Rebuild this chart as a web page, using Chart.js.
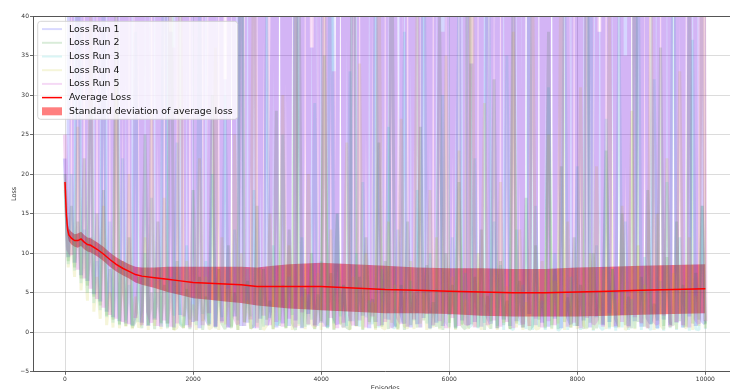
<!DOCTYPE html>
<html><head><meta charset="utf-8">
<script src="https://cdn.jsdelivr.net/npm/chart.js@4.4.1/dist/chart.umd.min.js"></script>
<style>html,body{margin:0;padding:0;background:#fff;overflow:hidden;width:730px;height:389px}canvas{display:block}</style>
</head><body>
<canvas id="c" width="745" height="395"></canvas>
<script>
// ---------- data ----------
const seriesLabels = ['Loss Run 1','Loss Run 2','Loss Run 3','Loss Run 4','Loss Run 5','Average Loss','Standard deviation of average loss'];
const xTicks = [0, 2000, 4000, 6000, 8000, 10000];
const yTicks = [-5, 0, 5, 10, 15, 20, 25, 30, 35, 40];
const runSampleStep = 50; // episodes between sampled loss values

const run1 = [
22, 9.5, 140, 8.8, 95, 7.2, 210, 6.5, 60, 4.8,
180, 3.9, 75, 2.6, 120, 1.9, 260, 1.4, 85, 1.1,
150, 0.9, 2.4, 110, 1.2, 45, 0.8, 300, 1.6, 70,
0.7, 190, 1.1, 38, 0.6, 130, 2.2, 88, 0.9, 240,
1.3, 55, 0.5, 165, 1.8, 1.0, 95, 0.7, 220, 1.4,
32, 0.6, 140, 2.0, 75, 0.8, 280, 1.2, 60, 0.5,
175, 1.7, 105, 0.9, 2.6, 48, 0.6, 230, 1.1, 90,
0.8, 155, 1.5, 66, 0.5, 200, 2.3, 36, 0.9, 125,
1.2, 270, 0.7, 80, 1.9, 1.0, 185, 0.6, 58, 1.4,
145, 0.8, 240, 2.1, 72, 0.5, 115, 1.3, 42, 0.9,
205, 1.6, 95, 0.7, 160, 2.4, 1.1, 290, 0.6, 68,
1.0, 135, 1.8, 50, 0.5, 215, 1.2, 88, 0.8, 170,
2.2, 62, 0.6, 250, 1.5, 110, 0.9, 34, 1.3, 195,
0.7, 78, 2.0, 1.1, 160, 0.5, 225, 1.6, 92, 0.8,
140, 1.4, 55, 0.6, 265, 2.3, 100, 0.9, 180, 1.2,
44, 0.7, 210, 1.7, 82, 0.5, 150, 2.1, 1.0, 240,
0.8, 65, 1.5, 195, 0.6, 120, 1.9, 38, 0.9, 275,
1.3, 90, 0.6, 165, 2.2, 58, 0.8, 230, 1.4, 105,
0.7, 145, 1.8, 1.1, 70, 0.5, 255, 1.6, 48, 0.9,
185, 1.2, 115, 0.6, 220, 2.0, 80, 0.8, 160, 1.5,
1.1];

const run2 = [
20, 9.0, 16, 8.2, 14, 6.8, 22, 5.9, 12, 4.5,
15, 3.4, 18, 2.1, 8, 1.6, 45, 1.0, 9, 0.8,
12, 0.6, 1.4, 7, 0.5, 25, 0.9, 5, 0.4, 14,
1.2, 6, 0.5, 60, 0.3, 9, 1.0, 0.6, 5.5, 0.4,
18, 1.5, 7, 0.3, 4.5, 0.8, 30, 0.5, 8, 1.1,
0.4, 11, 0.7, 5, 0.3, 70, 1.3, 6.5, 0.5, 0.9,
16, 0.3, 8, 1.6, 4, 0.4, 28, 0.8, 6, 0.5,
13, 1.2, 0.3, 50, 0.6, 5.5, 0.9, 10, 0.4, 4.8,
1.4, 35, 0.5, 7.5, 0.3, 15, 1.0, 6, 0.6, 0.4,
80, 0.8, 7, 0.3, 12, 1.3, 4.2, 0.5, 24, 0.7,
9, 0.4, 55, 1.1, 0.5, 6, 0.3, 14, 0.9, 5,
0.6, 26, 1.5, 8.5, 0.4, 3.8, 0.7, 40, 0.3, 10,
1.2, 6, 0.5, 19, 0.8, 0.4, 75, 1.0, 7, 0.6,
13, 0.3, 4.6, 1.4, 32, 0.5, 9, 0.9, 4, 0.4,
48, 1.1, 6.5, 0.6, 17, 0.3, 0.8, 11, 1.6, 5,
0.5, 38, 0.9, 8, 0.4, 21, 1.3, 4.4, 0.6, 12,
0.8, 6, 0.4, 58, 1.2, 10, 0.5, 5.2, 1.0, 23,
0.6, 8, 1.7, 0.7, 15, 0.9, 4.5, 0.5, 65, 1.3,
7, 0.7, 18, 1.0, 3.6, 1.5, 36, 0.8, 9.5, 1.2,
0.9, 14, 1.4, 6, 0.7, 44, 1.1, 7.5, 1.6, 16,
1.0];

const run3 = [
18, 8.6, 20, 7.8, 60, 6.2, 13, 5.0, 28, 3.7,
9, 2.8, 45, 1.9, 14, 1.2, 8, 0.9, 22, 1.5,
6, 0.8, 38, 1.3, 2.8, 10, 0.9, 17, 1.8, 5,
1.0, 70, 0.7, 7, 2.1, 24, 1.2, 0.8, 11, 1.6,
4.5, 0.9, 42, 2.3, 9, 1.1, 20, 0.7, 6, 1.9,
30, 1.0, 0.6, 13, 1.5, 85, 0.8, 8, 2.0, 18,
1.2, 5.5, 0.7, 40, 1.8, 11, 0.9, 1.4, 25, 0.6,
7, 2.2, 55, 1.0, 12, 0.7, 4.8, 1.6, 29, 0.8,
9, 1.3, 0.6, 65, 1.1, 15, 2.0, 6, 0.8, 33,
1.4, 10, 0.7, 19, 1.9, 4, 1.0, 48, 0.6, 8,
1.7, 26, 0.8, 0.5, 13, 1.2, 38, 0.7, 6.5, 1.5,
18, 0.6, 60, 1.1, 10, 0.8, 5.5, 0.5, 30, 1.3,
0.7, 12, 0.4, 44, 1.0, 7.5, 0.6, 0.9, 22, 0.5,
4.5, 1.2, 72, 0.4, 14, 0.8, 8.5, 0.3, 35, 0.6,
0.3, 13, 0.9, 6, 0.4, 52, 0.3, 16, 0.7, 4,
0.3, 31, 0.5, 10, 0.2, 0.6, 46, 0.3, 7, 0.8,
21, 0.3, 5, 0.5, 62, 0.2, 11, 0.7, 0.3, 27,
0.4, 8, 0.2, 40, 0.6, 14, 0.3, 4.2, 0.5, 50,
0.3, 9.5, 0.8, 0.3, 32, 0.4, 6.5, 0.2, 19, 0.5,
58, 0.3, 12, 0.6, 5.5, 0.2, 37, 0.4, 0.3, 16,
0.4];

const run4 = [
19, 8.2, 12, 7.0, 26, 5.3, 11, 4.0, 40, 2.6,
7, 1.7, 16, 0.9, 5, 0.6, 32, 0.5, 9, 0.7,
20, 0.4, 4.5, 0.6, 1.2, 12, 0.3, 28, 0.8, 6.5,
0.4, 17, 1.1, 5, 0.3, 0.6, 52, 0.5, 9, 0.9,
3.5, 0.3, 22, 1.4, 7, 0.4, 0.7, 36, 0.3, 12,
1.0, 5.5, 0.5, 25, 0.3, 10, 1.2, 4, 0.4, 58,
0.7, 8, 0.3, 0.9, 15, 0.4, 6.5, 1.5, 30, 0.5,
11, 0.3, 42, 0.8, 4.5, 0.4, 20, 1.1, 0.5, 7.5,
0.3, 46, 0.9, 13, 0.4, 5.5, 1.3, 0.6, 24, 0.3,
7, 0.7, 34, 0.4, 10, 1.0, 3.8, 0.3, 50, 0.6,
0.4, 14, 1.2, 6, 0.3, 27, 0.8, 0.5, 9, 0.4,
44, 1.1, 5, 0.3, 18, 0.6, 12, 0.4, 1.4, 35,
0.5, 7, 0.3, 23, 0.9, 4.2, 0.4, 62, 0.7, 10,
0.3, 29, 1.0, 0.5, 8, 0.3, 19, 1.2, 5.8, 0.4,
38, 0.6, 13, 0.3, 3.8, 0.8, 48, 0.4, 0.5, 9,
0.7, 25, 0.4, 6.5, 1.1, 55, 0.3, 14, 0.6, 5,
0.4, 31, 0.9, 0.5, 10, 0.3, 21, 1.0, 8, 0.4,
40, 0.7, 4.2, 0.5, 16, 0.3, 0.8, 28, 0.4, 11,
1.2, 6, 0.5, 45, 0.3, 15, 0.9, 0.4, 22, 0.6,
7.5, 0.4, 33, 1.1, 0.5, 12, 0.3, 4.6, 0.8, 56,
0.5];

const run5 = [
25, 10.5, 9.8, 230, 7.9, 120, 6.8, 70, 5.5, 190,
4.2, 110, 3.1, 240, 2.2, 65, 1.7, 175, 1.3, 95,
1.0, 260, 1.8, 50, 0.9, 140, 2.6, 1.2, 205, 0.8,
80, 1.5, 155, 0.7, 36, 1.1, 290, 2.0, 100, 0.6,
170, 1.4, 60, 0.9, 235, 2.4, 85, 0.7, 42, 1.2,
200, 0.6, 130, 1.9, 1.0, 75, 0.8, 250, 1.6, 115,
0.5, 55, 2.1, 185, 0.9, 95, 1.3, 270, 0.7, 40,
1.7, 150, 0.6, 210, 2.5, 68, 1.0, 125, 0.8, 1.4,
245, 0.7, 90, 1.8, 33, 0.5, 180, 1.2, 105, 2.2,
0.9, 225, 1.5, 62, 0.6, 160, 2.0, 280, 0.8, 78,
1.3, 135, 0.5, 46, 1.9, 1.1, 215, 0.7, 98, 1.6,
190, 0.6, 255, 2.3, 72, 0.9, 145, 1.4, 38, 0.5,
170, 1.8, 85, 0.8, 230, 1.2, 1.0, 120, 0.6, 58,
2.1, 265, 0.9, 110, 1.5, 40, 0.7, 195, 1.3, 88,
0.5, 150, 2.2, 1.0, 240, 0.8, 66, 1.7, 175, 0.6,
100, 1.4, 285, 0.9, 52, 2.0, 130, 0.7, 210, 1.2,
45, 0.5, 165, 1.8, 92, 1.0, 1.6, 250, 0.7, 76,
2.4, 140, 0.8, 200, 1.3, 35, 0.6, 180, 1.9, 115,
1.1, 60, 0.5, 275, 1.5, 1.0, 95, 2.1, 155, 0.7,
220, 1.3, 70, 0.9, 130, 0.6, 245, 1.7, 1.1, 90,
1.4];

const avgEpisodes = [0,20,40,60,100,150,200,250,300,350,400,500,600,700,800,900,1000,1100,1200,1400,1600,1800,2000,2250,2500,2750,3000,3250,3500,3750,4000,4500,5000,5500,6000,6500,7000,7500,8000,8500,9000,9500,10000];
const avgLoss = [19.0,15.0,13.0,12.3,11.9,11.6,11.6,11.8,11.4,11.1,11.0,10.5,9.9,9.2,8.6,8.1,7.7,7.3,7.1,6.9,6.7,6.5,6.3,6.2,6.1,6.0,5.8,5.8,5.8,5.8,5.8,5.6,5.4,5.3,5.2,5.1,5.0,5.0,5.1,5.2,5.3,5.4,5.5];
const avgStd = [0.6,0.7,0.8,0.8,0.8,0.8,0.9,0.9,0.9,0.9,0.9,0.9,0.9,0.9,0.9,0.9,0.9,1.0,1.1,1.3,1.6,1.8,2.0,2.1,2.2,2.3,2.4,2.6,2.8,2.9,3.0,3.0,3.0,2.9,2.9,3.0,3.0,3.0,3.1,3.1,3.1,3.1,3.1];

// ---------- styling ----------
const runRGB = ['0,0,255', '0,128,0', '0,191,191', '191,191,0', '191,0,191'];
const runWidth = [4.2, 3.0, 3.0, 3.0, 4.2];
const runAlpha = [0.16, 0.15, 0.15, 0.15, 0.16];
const runs = [run1, run2, run3, run4, run5];
const FONT = '"DejaVu Sans", "Liberation Sans", sans-serif';

const datasets = runs.map((r, k) => ({
  label: seriesLabels[k],
  data: r.map((v, i) => ({ x: i * runSampleStep, y: v })),
  borderColor: `rgba(${runRGB[k]},${runAlpha[k]})`,
  borderWidth: runWidth[k],
  borderJoinStyle: 'bevel',
  pointRadius: 0,
  tension: 0,
  fill: false,
  order: 5 - k
}));
datasets.push({
  label: seriesLabels[6],
  data: avgEpisodes.map((e, i) => ({ x: e, y: avgLoss[i] + avgStd[i] })),
  borderWidth: 0, pointRadius: 0, tension: 0,
  backgroundColor: 'rgba(255,0,0,0.5)',
  fill: '+1', order: 6
});
datasets.push({
  label: 'std-lower',
  data: avgEpisodes.map((e, i) => ({ x: e, y: avgLoss[i] - avgStd[i] })),
  borderWidth: 0, pointRadius: 0, tension: 0, fill: false, order: 7
});
datasets.push({
  label: seriesLabels[5],
  data: avgEpisodes.map((e, i) => ({ x: e, y: avgLoss[i] })),
  borderColor: '#ff0000', borderWidth: 1.5, pointRadius: 0, tension: 0, fill: false, order: 0
});

const mplLegend = {
  id: 'mplLegend',
  afterDraw(chart) {
    const ctx = chart.ctx, a = chart.chartArea;
    ctx.save();
    ctx.strokeStyle = '#555'; ctx.lineWidth = 1;
    ctx.beginPath();
    ctx.moveTo(a.left, a.top + 0.5); ctx.lineTo(a.right - 0.5, a.top + 0.5); ctx.lineTo(a.right - 0.5, a.bottom);
    ctx.stroke();
    const bx = a.left + 4.7, by = a.top + 5.3, bw = 200, bh = 98;
    ctx.beginPath(); ctx.roundRect(bx, by, bw, bh, 3);
    ctx.fillStyle = 'rgba(255,255,255,0.8)'; ctx.fill();
    ctx.strokeStyle = 'rgba(204,204,204,0.8)'; ctx.lineWidth = 1; ctx.stroke();
    const rowH = 13.7, y0 = by + 7.8;
    ctx.font = '9.4px ' + FONT; ctx.textBaseline = 'middle'; ctx.textAlign = 'left';
    seriesLabels.forEach((lab, k) => {
      const y = y0 + k * rowH;
      if (k < 5) {
        ctx.strokeStyle = `rgba(${runRGB[k]},0.15)`; ctx.lineWidth = 2;
        ctx.beginPath(); ctx.moveTo(bx + 4.3, y); ctx.lineTo(bx + 24.3, y); ctx.stroke();
      } else if (k === 5) {
        ctx.strokeStyle = '#ff0000'; ctx.lineWidth = 1.5;
        ctx.beginPath(); ctx.moveTo(bx + 4.3, y); ctx.lineTo(bx + 24.3, y); ctx.stroke();
      } else {
        ctx.fillStyle = 'rgba(255,0,0,0.5)';
        ctx.fillRect(bx + 4.3, y - 4, 20, 8);
      }
      ctx.fillStyle = '#111';
      ctx.fillText(lab, bx + 31.3, y);
    });
    ctx.restore();
  }
};

const minusFmt = v => String(v).replace('-', '\u2212');

new Chart(document.getElementById('c'), {
  type: 'line',
  data: { datasets },
  plugins: [mplLegend],
  options: {
    responsive: false, devicePixelRatio: 1, animation: false,
    layout: { padding: { left: 0, top: 16, right: 7.6, bottom: 0 } },
    plugins: { legend: { display: false }, tooltip: { enabled: false } },
    scales: {
      x: {
        type: 'linear', min: -500, max: 10500,
        afterBuildTicks: s => { s.ticks = xTicks.map(v => ({ value: v })); },
        afterFit: s => { s.height = 23.2; },
        grid: { color: 'rgba(128,128,128,0.35)', lineWidth: 0.8, tickColor: '#444', tickLength: 3 },
        border: { display: true, color: '#555', width: 1 },
        ticks: { font: { family: FONT, size: 6 }, color: '#333', padding: 1, maxRotation: 0, callback: minusFmt },
        title: { display: true, text: 'Episodes', font: { family: FONT, size: 6.5 }, color: '#333', padding: { top: 0, bottom: 3.2 } }
      },
      y: {
        min: -5, max: 40,
        afterBuildTicks: s => { s.ticks = yTicks.map(v => ({ value: v })); },
        afterFit: s => { s.width = 33; },
        grid: { color: 'rgba(128,128,128,0.35)', lineWidth: 0.8, tickColor: '#444', tickLength: 3 },
        border: { display: true, color: '#555', width: 1 },
        ticks: { font: { family: FONT, size: 6 }, color: '#333', padding: 1, callback: minusFmt },
        title: { display: true, text: 'Loss', font: { family: FONT, size: 6.5 }, color: '#333', padding: { top: 10.2, bottom: 0 } }
      }
    }
  }
});
</script>
</body></html>
